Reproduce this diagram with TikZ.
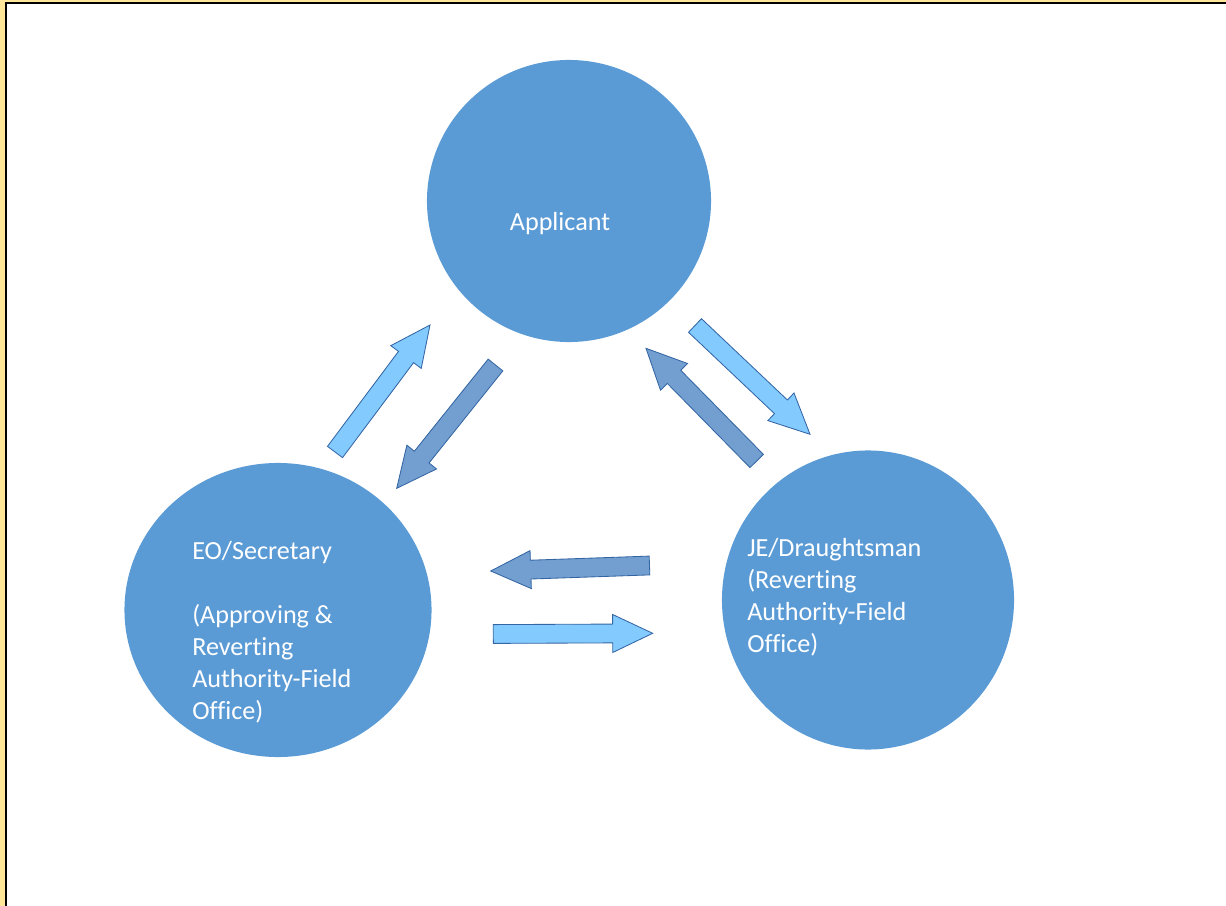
\documentclass[tikz,border=0pt]{standalone}
\usepackage{fontspec}
\setmainfont[Ligatures=NoCommon]{Carlito}
\usetikzlibrary{shapes.geometric,calc}
\definecolor{office}{HTML}{5B9BD5}
\definecolor{lightarrow}{HTML}{83CAFF}
\definecolor{darkarrow}{HTML}{729FCF}
\definecolor{arrowline}{HTML}{3465A4}
\definecolor{frameyellow}{HTML}{FFE699}

% block arrow: style, tail, tip
\newcommand{\blockarrow}[3]{%
  \coordinate (hb) at ($(#3)!1cm!(#2)$);
  \draw[#1] ($(#2)!0.235cm!90:(#3)$) -- ($(hb)!0.235cm!90:(#3)$)
    -- ($(hb)!0.475cm!90:(#3)$) -- (#3) -- ($(hb)!0.475cm!-90:(#3)$)
    -- ($(hb)!0.235cm!-90:(#3)$) -- ($(#2)!0.235cm!-90:(#3)$) -- cycle;
}

\tikzset{
  role/.style={ellipse, fill=office, inner sep=0pt},
  roletext/.style={text=white, inner sep=0pt, align=left,
    font=\fontsize{18.6}{22.8}\selectfont},
  fwd/.style={fill=lightarrow, draw=arrowline, line width=0.6pt, line join=miter},
  back/.style={fill=darkarrow, draw=arrowline, line width=0.6pt, line join=miter}
}

\begin{document}
\begin{tikzpicture}[x=0.025cm,y=-0.025cm]
    \useasboundingbox (0,0) rectangle (1226,906);

    % Frame
    \fill[frameyellow] (0,0) rectangle (5,906);
    \fill[frameyellow] (0,0) rectangle (1226,2);
    \draw[line width=0.05cm] (6,906) -- (6,3) -- (1226,3);

    % Roles
    \node[role, minimum width=7.1cm, minimum height=7.05cm] (app) at (569,201) {};
    \node[role, minimum width=7.675cm, minimum height=7.35cm] (eo) at (278,610) {};
    \node[role, minimum width=7.3cm, minimum height=7.475cm] (je) at (868,600) {};

    \node[roletext, anchor=base] (apptxt) at (560,231) {Applicant};
    \node[roletext, anchor=north west] (eotxt) at (192,541)
        {EO/Secretary\\[22.8pt](Approving \&\\Reverting\\Authority-Field\\Office)};
    \node[roletext, anchor=north west] (jetxt) at (747,538)
        {JE/Draughtsman\\(Reverting\\Authority-Field\\Office)};

    % Arrow ends
    \coordinate (eoup) at (335,452);
    \coordinate (appin) at (430,325);
    \coordinate (appdown) at (495.5,365);
    \coordinate (eoin) at (396.7,488.3);
    \coordinate (appout) at (695,325.5);
    \coordinate (jein) at (810,434.3);
    \coordinate (jeup) at (756.7,461);
    \coordinate (appback) at (646,348.3);
    \coordinate (jeleft) at (649.5,565.5);
    \coordinate (eoback) at (490.7,571);
    \coordinate (eoright) at (493.3,634);
    \coordinate (jeback) at (652.7,633.3);

    % Arrows
    \blockarrow{fwd}{eoup}{appin}
    \blockarrow{back}{appdown}{eoin}
    \blockarrow{fwd}{appout}{jein}
    \blockarrow{back}{jeup}{appback}
    \blockarrow{back}{jeleft}{eoback}
    \blockarrow{fwd}{eoright}{jeback}
\end{tikzpicture}
\end{document}
